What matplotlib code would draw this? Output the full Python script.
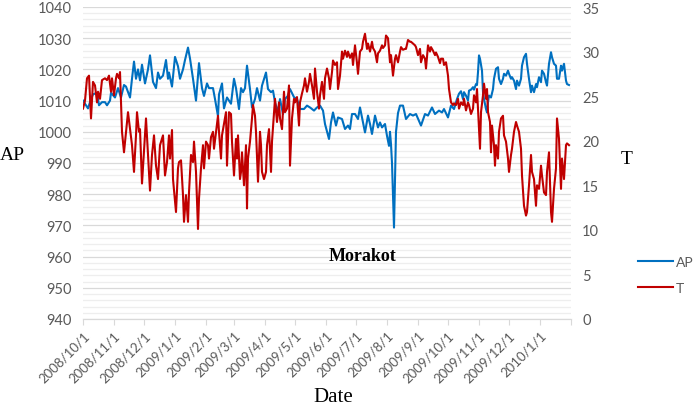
import matplotlib
matplotlib.use('Agg')
import matplotlib.pyplot as plt
from matplotlib.ticker import MultipleLocator
import pandas as pd

start = pd.Timestamp('2008-10-01')

# air pressure (hPa), day offsets from 2008/10/1
ap_day = [0, 2, 5, 8, 10, 14, 16, 19, 22, 24, 27, 28, 32, 35, 38, 41, 43, 47, 49, 51,
          53, 55, 57, 59, 62, 65, 67, 70, 73, 75, 77, 80, 83, 85, 86, 89, 92, 95, 97, 100,
          102, 105, 107, 110, 113, 116, 119, 121, 124, 126, 130, 132, 135, 136, 139, 141, 144, 148, 151, 153,
          156, 158, 160, 162, 164, 167, 169, 172, 174, 177, 179, 183, 185, 188, 190, 192, 195, 197, 200, 202,
          205, 207, 211, 214, 217, 221, 224, 227, 231, 234, 237, 240, 242, 246, 248, 250, 253, 255, 259, 262,
          265, 267, 269, 272, 275, 277, 279, 282, 285, 287, 289, 292, 295, 297, 299, 302, 304, 306, 307, 308,
          309, 311, 312, 313, 315, 317, 320, 323, 327, 330, 333, 338, 342, 345, 349, 352, 356, 359, 361, 365,
          368, 371, 374, 376, 378, 380, 381, 383, 385, 386, 388, 390, 391, 393, 394, 395, 396, 397, 399, 400,
          401, 403, 404, 405, 406, 408, 410, 411, 413, 415, 416, 418, 420, 421, 423, 425, 426, 428, 429, 431,
          433, 434, 436, 438, 439, 441, 443, 444, 446, 448, 449, 451, 453, 454, 456, 458, 459, 461, 463, 464,
          466, 468, 469, 471, 473, 474, 476, 478, 479, 481, 483, 484, 486]
ap_val = [1010, 1009, 1007.5, 1010.5, 1012, 1012.5, 1008.5, 1009.5, 1009.5, 1008.5, 1010, 1012.5, 1011, 1014, 1011, 1015, 1014.5, 1011, 1017, 1022.5,
          1017, 1020, 1016.5, 1021.5, 1015.5, 1020, 1024.5, 1016, 1014, 1019, 1017, 1018, 1023, 1017, 1019, 1014.5, 1024, 1021, 1017, 1020,
          1023, 1027, 1023.5, 1017, 1010, 1022, 1014, 1011.5, 1015.5, 1014, 1014, 1010.5, 1005, 1012, 1015.5, 1007.5, 1011, 1009, 1017, 1014,
          1007.3, 1014, 1012.7, 1014, 1021.2, 1013.7, 1007.8, 1010.5, 1014, 1010, 1014.8, 1019, 1013.7, 1012.7, 1013.2, 1009.5, 1006.2, 1010.5, 1005.7, 1010.5,
          1011.6, 1013.7, 1011.1, 1010.5, 1007.3, 1007.3, 1008.4, 1007.8, 1006.8, 1007.8, 1008.4, 1006.8, 1002.5, 997.7, 1003, 1006.2, 1002, 1004.6, 1004.1, 1000.9,
          1002, 1000.9, 1005.7, 1005.7, 1004.1, 1007.8, 1004.6, 999.8, 1005.2, 1002.5, 999.3, 1005.2, 1001.4, 1003, 1001.4, 1002.5, 998.7, 995.5, 1000, 996,
          990, 969.3, 985, 1000, 1006, 1008.4, 1008.4, 1004.1, 1005.7, 1005.2, 1005.7, 1002, 1005.7, 1005.2, 1007.8, 1005.7, 1006.8, 1006.2, 1007.3, 1004.6,
          1008.4, 1007.3, 1010.5, 1012.2, 1013, 1010.5, 1012.7, 1011.6, 1010, 1013.2, 1013.5, 1014.3, 1013.5, 1015.3, 1015, 1019.1, 1024.5, 1023.4, 1019.6, 1012.7,
          1010.5, 1007.3, 1006.2, 1009.5, 1011.6, 1011, 1013.7, 1017, 1020.2, 1020.7, 1017, 1015.3, 1017, 1018.6, 1018, 1019.6, 1018.6, 1017, 1017.5, 1016.4,
          1013.7, 1016.4, 1014.8, 1017, 1021.2, 1023.9, 1025, 1021.8, 1017, 1012.7, 1014.8, 1012.7, 1015.3, 1014.3, 1017.5, 1015.9, 1019.6, 1018.6, 1015.9, 1014.8,
          1021.8, 1025.5, 1023.9, 1021.8, 1021.2, 1017, 1017, 1021.2, 1019.6, 1021.8, 1016.4, 1015.3, 1015]

# temperature (C), day offsets from 2008/10/1
t_day = [0, 2, 4, 6, 8, 10, 12, 14, 15, 17, 19, 22, 24, 26, 28, 29, 31, 33, 34, 36,
         37, 39, 41, 43, 45, 47, 49, 51, 53, 54, 56, 57, 59, 62, 63, 65, 67, 69, 71, 73,
         75, 77, 80, 82, 84, 86, 87, 89, 90, 93, 95, 96, 98, 100, 101, 103, 105, 106, 108, 110,
         111, 113, 115, 116, 118, 120, 121, 123, 125, 126, 128, 130, 131, 133, 135, 136, 138, 139, 143, 144,
         146, 148, 149, 151, 153, 154, 155, 157, 158, 159, 161, 163, 164, 165, 167, 169, 170, 172, 173, 175,
         177, 178, 179, 181, 183, 184, 186, 188, 189, 191, 192, 194, 196, 197, 199, 201, 202, 204, 206, 207,
         209, 211, 212, 214, 216, 217, 219, 221, 222, 224, 226, 227, 229, 231, 232, 234, 236, 237, 239, 241,
         242, 244, 246, 247, 249, 250, 252, 254, 255, 257, 259, 260, 262, 264, 265, 267, 269, 270, 272, 274,
         275, 277, 279, 280, 282, 284, 285, 287, 289, 290, 292, 294, 295, 297, 299, 300, 302, 303, 305, 307,
         308, 310, 312, 313, 315, 317, 318, 320, 322, 323, 325, 327, 328, 330, 332, 333, 335, 337, 338, 340,
         342, 343, 345, 347, 348, 350, 352, 353, 355, 357, 358, 360, 361, 363, 365, 366, 368, 370, 371, 373,
         375, 376, 378, 380, 381, 383, 385, 386, 388, 390, 391, 393, 394, 395, 397, 398, 400, 401, 403, 404,
         405, 407, 408, 409, 411, 412, 413, 415, 416, 418, 420, 421, 423, 425, 426, 428, 429, 431, 433, 434,
         436, 438, 439, 441, 443, 444, 446, 448, 449, 451, 453, 454, 456, 458, 459, 461, 463, 464, 466, 468,
         469, 471, 473, 474, 476, 478, 479, 481, 483, 484, 486]
t_val = [23.6, 24.5, 27, 27.3, 22.5, 26.6, 26.2, 24.3, 25.5, 24.7, 26.8, 27, 26.8, 27.3, 25.5, 27, 25.1, 27, 27.5, 27,
         27.7, 21, 18.7, 21, 23.2, 21.3, 19.5, 16.5, 20.6, 23.2, 21, 21.3, 15.2, 20.6, 22.5, 18.4, 14.4, 18.4, 20.6, 17.2,
         15.7, 19.5, 20.6, 16.1, 17.6, 20.6, 18, 21.2, 15.7, 12, 16.9, 17.6, 17.8, 13.9, 10.9, 13.9, 10.9, 14.2, 18.4, 17.6,
         19.9, 16.5, 10.1, 13.5, 16.9, 19.5, 16.9, 19.9, 19.5, 18, 20.4, 21, 19.1, 21, 22.8, 21, 18, 20.6, 23.2, 17.2,
         23.2, 23, 19.9, 16.1, 20.2, 18, 20.6, 15.7, 16.5, 18.7, 15, 19.5, 12.4, 18, 19.9, 22.5, 24, 22.8, 21, 15.4,
         21, 19.5, 16.5, 15.7, 16.5, 19.5, 21.3, 16.5, 19.9, 23.2, 24.7, 22.1, 24.3, 22.5, 21.3, 25.5, 23.2, 23.6, 26.2, 17.2,
         22.5, 24.7, 24.3, 24.9, 21.7, 24.3, 25.3, 26.2, 27, 25.5, 26.6, 27.5, 26.2, 24.7, 28.1, 25.5, 23.6, 25.1, 26.6, 24.7,
         27, 28.1, 27, 25.8, 27.7, 29, 28.5, 28.8, 25.8, 27.3, 30, 29.2, 30.1, 29.4, 30, 29.3, 29.8, 28.5, 30.7, 28.7,
         27.5, 30, 30.3, 31.1, 32, 30.3, 30.9, 30, 31.1, 30.4, 30, 28.8, 29.8, 30.1, 30.7, 30.4, 30.7, 31.8, 31.5, 28.8,
         29.6, 27.3, 29.2, 29.6, 28.8, 30, 30.5, 30.2, 30.3, 30.3, 31.3, 31.1, 31.1, 30.9, 30.7, 30.5, 29.6, 30.3, 28.8, 29.6,
         29.2, 28.1, 30.7, 30, 30.5, 30.1, 29.6, 29.9, 29.4, 28.7, 29.2, 29.2, 28.5, 28.8, 27.3, 25.8, 24.3, 24, 24.2, 24,
         24.7, 23.6, 24.3, 24, 24.7, 23.4, 24.3, 24, 23, 23.6, 25.1, 24.3, 25.8, 23.6, 19.1, 23.2, 25.1, 26.4, 24.7, 25.8,
         23.2, 22.1, 18.7, 21.7, 19.5, 17.2, 19.5, 18, 21, 22.5, 22.8, 20.6, 19.9, 18, 16.5, 18.4, 19.1, 21, 22.1, 21.7,
         21, 19.1, 16.1, 12.7, 11.6, 12, 15, 18.4, 16.5, 15.7, 12.7, 15, 14.6, 17.2, 16.1, 14.2, 13.9, 16.5, 18.7, 12,
         10.9, 14.6, 16.9, 22.5, 20.2, 14.6, 18, 15.7, 19.5, 19.7, 19.5]

month_ticks = pd.date_range('2008-10-01', '2010-02-01', freq='MS')
tick_labels = [f'{d.year}/{d.month}/{d.day}' for d in month_ticks[:-1]] + ['']

ap_dates = start + pd.to_timedelta(ap_day, unit='D')
t_dates = start + pd.to_timedelta(t_day, unit='D')

gray = '#595959'
tick_font = 'Lato'
serif = 'Liberation Serif'

fig = plt.figure(figsize=(6.97, 4.14), dpi=100)
ax = fig.add_axes([83 / 697, 1 - 320 / 414, (571 - 83) / 697, 312 / 414])
ax2 = ax.twinx()

l1, = ax.plot(ap_dates, ap_val, color='#0070C0', lw=1.5)
l2, = ax2.plot(t_dates, t_val, color='#C00000', lw=1.5)

ax.set_ylim(940, 1040)
ax2.set_ylim(0, 35)
ax.set_xlim(start, pd.Timestamp('2010-02-01'))

ax.yaxis.set_major_locator(MultipleLocator(10))
ax.yaxis.set_minor_locator(MultipleLocator(2))
ax2.yaxis.set_major_locator(MultipleLocator(5))
ax.grid(True, which='major', axis='y', color='#d9d9d9', lw=0.9)
ax.grid(True, which='minor', axis='y', color='#eeeeee', lw=0.9)
ax.set_axisbelow(True)

ax.set_xticks(month_ticks)
ax.set_xticklabels(tick_labels, rotation=45, ha='right', rotation_mode='anchor',
                   fontsize=9.5, color=gray, fontfamily=tick_font)
ax.tick_params(axis='x', length=4, color='#d9d9d9', pad=3)
ax.tick_params(axis='y', which='both', length=0, labelsize=10.5, labelcolor=gray, pad=8)
ax2.tick_params(axis='y', length=0, labelsize=10.5, labelcolor=gray, pad=8)
for lab in ax.get_yticklabels() + ax2.get_yticklabels():
    lab.set_fontfamily(tick_font)

for a in (ax, ax2):
    for s in ('top', 'left', 'right'):
        a.spines[s].set_visible(False)
    a.spines['bottom'].set_color('#d9d9d9')

ax.set_ylabel('AP', rotation=0, fontsize=14, fontfamily=serif, va='center', ha='center')
ax.yaxis.set_label_coords(-0.145, 0.526)
ax2.set_ylabel('T', rotation=0, fontsize=14, fontfamily=serif, va='center', ha='center')
ax2.yaxis.set_label_coords(1.115, 0.513)
ax.set_xlabel('Date', fontsize=15, fontfamily=serif)
ax.xaxis.set_label_coords(0.512, -0.25)
ax.xaxis.label.set_va('center')

ax.text(start + pd.Timedelta(days=280), 960.2, 'Morakot', ha='center', va='center',
        fontfamily=serif, fontweight='bold', fontsize=13)

fig.legend([l1, l2], ['AP', 'T'], loc='center left', bbox_to_anchor=(631 / 697, 1 - 276 / 414),
           frameon=False, prop={'family': tick_font, 'size': 10}, labelcolor=gray,
           handlelength=2.5, labelspacing=1.0, handletextpad=0.25, borderpad=0)

fig.savefig('out.png', dpi=100)
